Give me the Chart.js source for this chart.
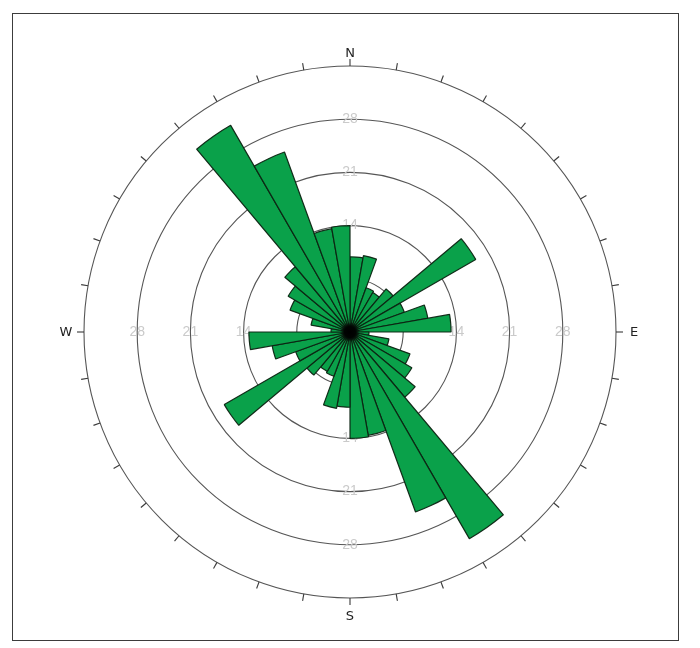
<!DOCTYPE html>
<html>
<head>
<meta charset="utf-8">
<script src="https://cdn.jsdelivr.net/npm/chart.js@4.4.1/dist/chart.umd.min.js"></script>
<style>
  html, body { margin: 0; padding: 0; background: #fff; }
  #wrap { position: relative; width: 700px; height: 648px; }
  #frame { position: absolute; left: 12px; top: 13px; width: 667px; height: 628px;
           border: 1.5px solid #3c3c3c; box-sizing: border-box; }
  #rose { position: absolute; left: 0; top: 0; }
</style>
</head>
<body>
<div id="wrap">
  <div id="frame"></div>
  <canvas id="rose" width="700" height="648"></canvas>
</div>
<script>
// 10-degree direction classes, clockwise from north
const sectors = [
  '0-10', '10-20', '20-30', '30-40', '40-50', '50-60', '60-70', '70-80', '80-90',
  '90-100', '100-110', '110-120', '120-130', '130-140', '140-150', '150-160', '160-170', '170-180',
  '180-190', '190-200', '200-210', '210-220', '220-230', '230-240', '240-250', '250-260', '260-270',
  '270-280', '280-290', '290-300', '300-310', '310-320', '320-330', '330-340', '340-350', '350-360'
];

// frequency in each direction class
const counts = [
  9.9, 10.2, 6.2, 6.0, 7.4, 19.1, 7.6, 10.4, 13.3,
  2.5, 5.2, 8.4, 9.4, 11.2, 31.4, 25.2, 13.8, 14.0,
  9.9, 10.2, 6.2, 6.0, 7.4, 19.1, 7.6, 10.4, 13.3,
  2.5, 5.2, 8.4, 9.4, 11.2, 31.4, 25.2, 13.8, 14.0
];

// labelled rings and compass points (label, bearing, gap outside the rim)
const ringLabels = [14, 21, 28];
const compassPoints = [['N', 0, 13], ['E', 90, 18], ['S', 180, 18], ['W', 270, 18]];
const compassTickStep = 10;

const roseDecor = {
  id: 'roseDecor',
  beforeDatasetsDraw(chart) {
    const s = chart.scales.r;
    const ctx = chart.ctx;
    ctx.save();
    ctx.font = '14px "Liberation Sans", Arial, sans-serif';
    ctx.fillStyle = '#cacaca';
    ctx.textAlign = 'center';
    ctx.textBaseline = 'middle';
    ringLabels.forEach(v => {
      const d = s.getDistanceFromCenterForValue(v);
      [[0, -1], [1, 0], [0, 1], [-1, 0]].forEach(([ux, uy]) => {
        ctx.fillText(String(v), s.xCenter + ux * d, s.yCenter + uy * d);
      });
    });
    ctx.restore();
  },
  afterDatasetsDraw(chart) {
    // dark hub where all sector edges meet
    const s = chart.scales.r;
    const ctx = chart.ctx;
    const g = ctx.createRadialGradient(s.xCenter, s.yCenter, 0, s.xCenter, s.yCenter, 10);
    g.addColorStop(0, 'rgba(0,0,0,1)');
    g.addColorStop(0.55, 'rgba(0,0,0,0.9)');
    g.addColorStop(1, 'rgba(0,0,0,0)');
    ctx.save();
    ctx.fillStyle = g;
    ctx.beginPath();
    ctx.arc(s.xCenter, s.yCenter, 10, 0, Math.PI * 2);
    ctx.fill();
    ctx.restore();
  },
  afterDraw(chart) {
    const s = chart.scales.r;
    const ctx = chart.ctx;
    const R = s.getDistanceFromCenterForValue(s.max);
    ctx.save();
    ctx.strokeStyle = '#3a3a3a';
    ctx.lineWidth = 1.1;
    for (let a = 0; a < 360; a += compassTickStep) {
      const t = a * Math.PI / 180;
      const sx = Math.sin(t), sy = -Math.cos(t);
      ctx.beginPath();
      ctx.moveTo(s.xCenter + sx * R, s.yCenter + sy * R);
      ctx.lineTo(s.xCenter + sx * (R + 7), s.yCenter + sy * (R + 7));
      ctx.stroke();
    }
    ctx.font = '13px "DejaVu Sans", sans-serif';
    ctx.fillStyle = '#222';
    ctx.textAlign = 'center';
    ctx.textBaseline = 'middle';
    compassPoints.forEach(([txt, a, gap]) => {
      const t = a * Math.PI / 180;
      ctx.fillText(txt, s.xCenter + Math.sin(t) * (R + gap), s.yCenter - Math.cos(t) * (R + gap) + 1);
    });
    ctx.restore();
  }
};

new Chart(document.getElementById('rose').getContext('2d'), {
  type: 'polarArea',
  data: {
    labels: sectors,
    datasets: [{
      data: counts,
      backgroundColor: '#0aa14a',
      borderColor: 'rgba(12,36,18,0.95)',
      borderWidth: 1.2
    }]
  },
  options: {
    responsive: false,
    animation: false,
    layout: { padding: { left: 84, right: 83, top: 66, bottom: 50 } },
    plugins: { legend: { display: false }, tooltip: { enabled: false } },
    scales: {
      r: {
        min: 0,
        max: 35,
        startAngle: 0,
        ticks: { display: false, stepSize: 7 },
        grid: { color: '#555', lineWidth: 1.1 },
        angleLines: { display: false },
        pointLabels: { display: false }
      }
    }
  },
  plugins: [roseDecor]
});
</script>
</body>
</html>
